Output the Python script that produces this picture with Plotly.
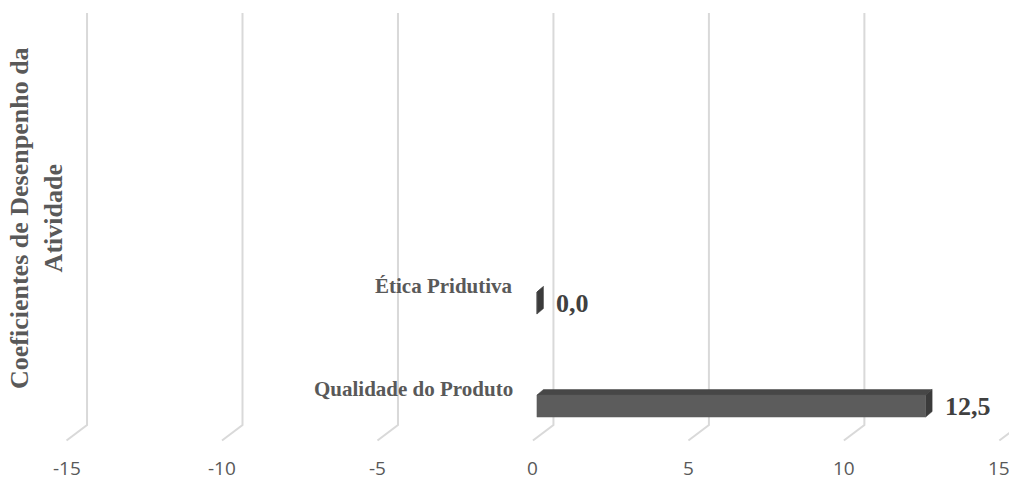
import plotly.graph_objects as go

# Data
categories = ["Qualidade do Produto", "Ética Pridutiva"]
values = [12.5, 0.0]
value_labels = ["12,5", "0,0"]
tick_values = [-15, -10, -5, 0, 5, 10, 15]
tick_labels = ["-15", "-10", "-5", "0", "5", "10", "15"]
axis_title = "Coeficientes de Desenpenho da<br>Atividade"

W, H = 1009, 480
X_RANGE = [-17.14, 15.31]
Y_RANGE = [-0.718, 3.942]
sx = W / (X_RANGE[1] - X_RANGE[0])  # px per value unit
sy = H / (Y_RANGE[1] - Y_RANGE[0])  # px per category step


def ux(px):
    return px / sx


def uy(px):
    return px / sy


# 3D perspective offsets
DEPTH_X, DEPTH_Y = ux(20.5), uy(15.5)     # back wall -> front edge of floor
GRID_TOP = Y_RANGE[1] - uy(13)
FLOOR_BACK = Y_RANGE[0] + uy(55)
FLOOR_FRONT = FLOOR_BACK - DEPTH_Y
TICK_Y = Y_RANGE[0] + uy(12.5)

BAR_X0 = ux(4)          # bar plane shift relative to the tick-label plane
BAR_HALF = uy(11)
BAR_DX, BAR_DY = ux(6.5), uy(5.5)

FRONT_C, TOP_C, SIDE_C = "#5c5c5c", "#474747", "#3b3b3b"
GRID_C = "#d9d9d9"

fig = go.Figure()

# Gridlines: vertical on the back wall, slanted across the floor
gx, gy = [], []
for v in tick_values:
    gx += [v + DEPTH_X, v + DEPTH_X, v, None]
    gy += [GRID_TOP, FLOOR_BACK, FLOOR_FRONT, None]
fig.add_trace(go.Scatter(x=gx, y=gy, mode="lines",
                         line=dict(color=GRID_C, width=2),
                         hoverinfo="skip", showlegend=False))

# 3D bars
for i, v in enumerate(values):
    x0 = BAR_X0
    x1 = BAR_X0 + v
    yb, yt = i - BAR_HALF, i + BAR_HALF
    faces = [
        # top face
        ([x0, x1, x1 + BAR_DX, x0 + BAR_DX, x0],
         [yt, yt, yt + BAR_DY, yt + BAR_DY, yt], TOP_C),
        # end cap
        ([x1, x1 + BAR_DX, x1 + BAR_DX, x1, x1],
         [yb, yb + BAR_DY, yt + BAR_DY, yt, yb], SIDE_C),
        # front face
        ([x0, x1, x1, x0, x0],
         [yb, yb, yt, yt, yb], FRONT_C),
    ]
    for fx, fy, c in faces:
        fig.add_trace(go.Scatter(x=fx, y=fy, mode="lines", fill="toself",
                                 fillcolor=c, line=dict(color=c, width=0.5),
                                 hoverinfo="skip", showlegend=False))

annotations = []
# Category labels
for i, name in enumerate(categories):
    annotations.append(dict(
        x=BAR_X0 - ux(22), y=i + uy(17), xref="x", yref="y",
        text=f"<b>{name}</b>", showarrow=False, xanchor="right", yanchor="middle",
        font=dict(family="Liberation Serif", size=21, color="#595959")))

# Value labels
for i, (v, lab) in enumerate(zip(values, value_labels)):
    annotations.append(dict(
        x=BAR_X0 + v + ux(17), y=i, xref="x", yref="y",
        text=f"<b>{lab}</b>", showarrow=False, xanchor="left", yanchor="middle",
        font=dict(family="Liberation Serif", size=26, color="#404040")))

# Value-axis tick labels on the front edge
for v, lab in zip(tick_values, tick_labels):
    annotations.append(dict(
        x=v, y=TICK_Y, xref="x", yref="y", text=lab, showarrow=False,
        xanchor="center", yanchor="middle",
        font=dict(family="Open Sans", size=19, color="#595959")))

# Category axis title
annotations.append(dict(
    x=37 / W, y=1 - 218 / H, xref="paper", yref="paper",
    text=f"<b>{axis_title}</b>", textangle=-90, showarrow=False,
    xanchor="center", yanchor="middle",
    font=dict(family="Liberation Serif", size=26, color="#595959")))

fig.update_layout(
    width=W, height=H,
    margin=dict(l=0, r=0, t=0, b=0),
    paper_bgcolor="white", plot_bgcolor="white",
    xaxis=dict(range=X_RANGE, visible=False, fixedrange=True),
    yaxis=dict(range=Y_RANGE, visible=False, fixedrange=True),
    annotations=annotations,
    showlegend=False,
)

fig.write_html("out.html")
